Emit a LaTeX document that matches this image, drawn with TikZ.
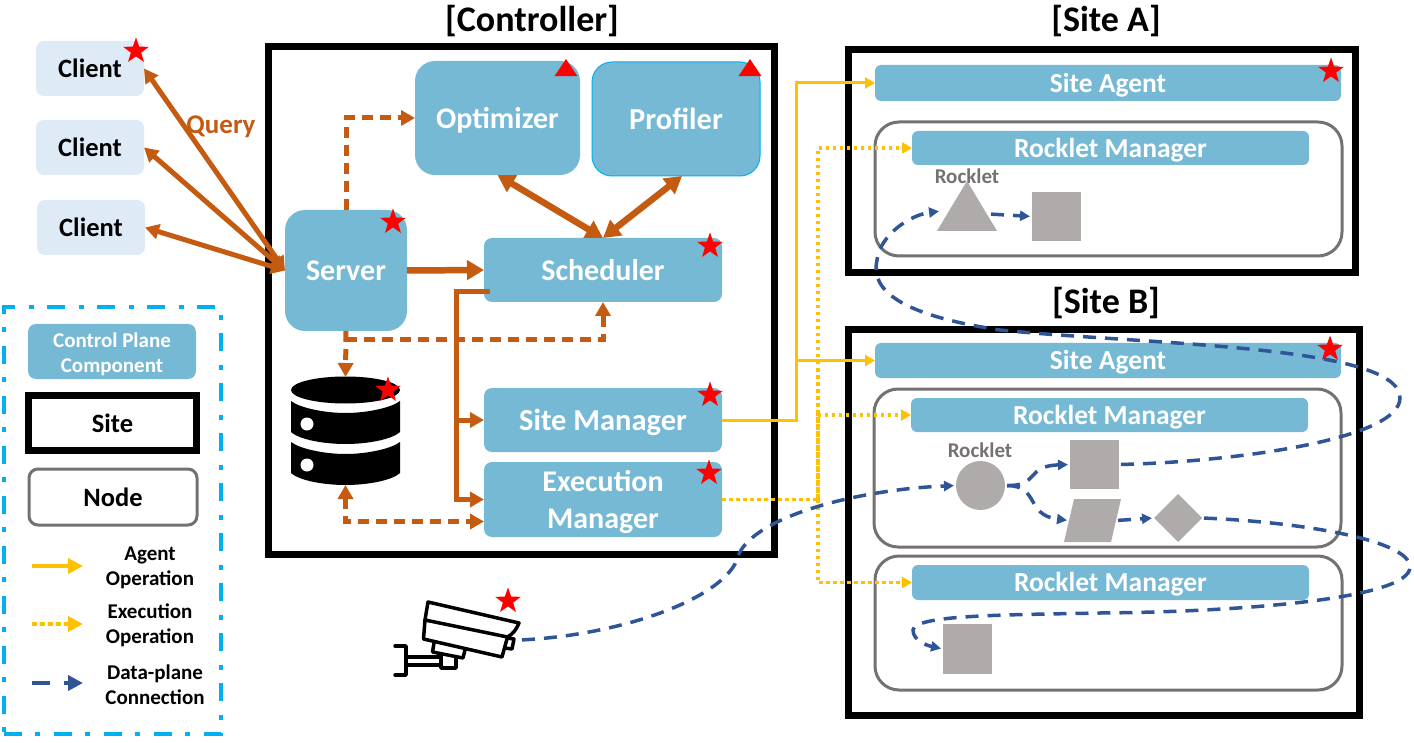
\documentclass[tikz,border=0pt]{standalone}
\usepackage{fontspec}
\setmainfont{Carlito}[BoldFont={Carlito Bold}]
\usetikzlibrary{positioning,shapes.geometric,arrows.meta}
\definecolor{compblue}{HTML}{75B9D4}
\definecolor{clientblue}{HTML}{DEEAF6}
\definecolor{nodegrey}{HTML}{767171}
\definecolor{rockgrey}{HTML}{AFABAB}
\definecolor{ctrlorange}{HTML}{C55A11}
\definecolor{agentyellow}{HTML}{FFC000}
\definecolor{datablue}{HTML}{2F5597}
\definecolor{legendcyan}{HTML}{00B0F0}
\tikzset{
  sz/.style 2 args={minimum width=#1pt, minimum height=#2pt},
  txt/.style={font=\fontsize{#1}{36}\selectfont\bfseries},
  boxtxt/.style={txt=#1, text height={0.87*#1pt}, text depth={0.2*#1pt}},
  comp/.style={fill=compblue, text=white, rounded corners=#1, inner sep=0pt, align=center},
  comp/.default=8pt,
  client/.style={fill=clientblue, rounded corners=8pt, inner sep=0pt, boxtxt=26.5},
  sitebox/.style={draw, line width=7pt, inner sep=0pt},
  nodebox/.style={draw=nodegrey, line width=3pt, rounded corners=#1, inner sep=0pt},
  nodebox/.default=24pt,
  rock/.style={fill=rockgrey, inner sep=0pt},
  rlabel/.style={text=nodegrey, txt=21},
  redstar/.style={star, star points=5, star point ratio=2.5, fill=red, minimum size=27pt, inner sep=0pt},
  redtri/.style={isosceles triangle, shape border rotate=90, isosceles triangle apex angle=68, fill=red, minimum height=17pt, inner sep=0pt},
  ctrl/.style={draw=ctrlorange, line width=5pt, -{Triangle[length=14pt,width=15pt]}},
  ctrlboth/.style={ctrl, {Triangle[length=14pt,width=15pt]}-{Triangle[length=14pt,width=15pt]}},
  ctrlbig/.style={draw=ctrlorange, line width=6.5pt, {Triangle[length=17pt,width=19pt]}-{Triangle[length=17pt,width=19pt]}},
  ctrldash/.style={dash pattern=on 11pt off 7pt},
  agent/.style={draw=agentyellow, line width=3pt, -{Triangle[length=10pt,width=11pt]}},
  exec/.style={agent, line width=3.5pt, dash pattern=on 3.5pt off 3.5pt},
  data/.style={draw=datablue, line width=3.5pt, dash pattern=on 13pt off 9pt, -{Triangle[length=10pt,width=10pt]}, shorten >=2pt, shorten <=2pt}
}
\begin{document}
\begin{tikzpicture}[x=1pt, y=-1pt, every node/.style={outer sep=0pt}]
  \useasboundingbox (0,0) rectangle (1414,743);

  % titles
  \node[txt=36] (titlectrl) at (532,21) {[Controller]};
  \node[txt=36] (titlea) at (1106,21) {[Site A]};
  \node[txt=36] (titleb) at (1106,303) {[Site B]};

  % clients
  \node[client, sz={108}{55}] (client1) at (90,68.5) {Client};
  \node[client, sz={108}{55}, below=24pt of client1] (client2) {Client};
  \node[client, sz={108}{55}] (client3) at (91,227.5) {Client};

  % controller
  \node[sitebox, sz={506}{507}] (ctrlbox) at (521.5,300.5) {};
  \node[comp=20pt, sz={122}{121}, boxtxt=30] (server) at (346,270.5) {Server};
  \node[comp=20pt, sz={165}{114}, boxtxt=30] (optimizer) at (497.5,118) {Optimizer};
  \node[comp=20pt, sz={168}{114}, boxtxt=30.5, draw=legendcyan, line width=1pt] (profiler) at (676,119) {Profiler};
  \node[comp, sz={238}{64}, boxtxt=30] (scheduler) at (603,270) {Scheduler};
  \node[comp, sz={238}{64}, boxtxt=30.5] (sitemgr) at (603,420) {Site Manager};
  \node[comp, sz={238}{75}, font=\fontsize{30}{37}\selectfont\bfseries, below=10pt of sitemgr] (execmgr) {\rule{0pt}{26.5pt}Execution\\Manager};

  % database
  \node[sz={109}{108}, inner sep=0pt] (db) at (345.5,431) {};
  \fill (345.5,390) ellipse [x radius=54.5, y radius=13.5];
  \foreach \dy in {0,41}
    \fill[yshift=-\dy pt] (291,401) .. controls (300,408) and (325,413) .. (345.5,413)
      .. controls (366,413) and (391,408) .. (400,401) -- (400,432)
      .. controls (391,440) and (366,444) .. (345.5,444)
      .. controls (325,444) and (300,440) .. (291,432) -- cycle;
  \fill[white] (307,424) circle [radius=6.5];
  \fill[white] (307,465) circle [radius=6.5];

  % camera
  \node[sz={126}{78}, inner sep=0pt] (camera) at (457,639) {};
  \begin{scope}[line width=3.5pt, line join=round, line cap=round]
    \draw (428,602) -- (519,623) .. controls (516,630) and (513,634) .. (507.5,637) -- (425,620) -- cycle;
    \draw (425,620) -- (423.5,639) -- (502,657) -- (507.5,637);
    \draw (507,638) -- (514,639) -- (512,649) -- (505,648);
    \draw (434,643) -- (432.5,652) -- (463,658) -- (465,650);
    \draw (441,656) -- (441,668) -- (456,668) -- (456,658);
    \draw (406,657) -- (441,657);
    \draw (406,665) -- (441,665);
    \draw (395,646) -- (406,646) -- (406,675) -- (395,675);
  \end{scope}

  % site A
  \node[sitebox, sz={507}{223}] (sitea) at (1102,161) {};
  \node[comp=6pt, sz={466}{36}, boxtxt=27.5] (agenta) at (1108,83) {Site Agent};
  \node[nodebox, sz={467}{134}] (nodea) at (1108.5,189) {};
  \node[comp=6pt, sz={397}{34}, boxtxt=27.5] (rma) at (1110.5,148) {Rocklet Manager};
  \node[rlabel] (rlabela) at (967,176) {Rocklet};
  \node[rock, isosceles triangle, shape border rotate=90, isosceles triangle apex angle=62, minimum height=50pt] (rocka1) at (967,214) {};
  \node[rock, sz={49}{49}] (rocka2) at (1056.5,216.5) {};

  % site B
  \node[sitebox, sz={511}{386}] (siteb) at (1104,522.5) {};
  \node[comp=6pt, sz={466}{35}, boxtxt=27.5] (agentb) at (1108,360.5) {Site Agent};
  \node[nodebox, sz={467}{158}] (nodeb1) at (1107.5,468) {};
  \node[comp=6pt, sz={397}{34}, boxtxt=27.5] (rmb1) at (1109.5,415) {Rocklet Manager};
  \node[rlabel] (rlabelb) at (980,450) {Rocklet};
  \node[rock, circle, minimum size=49pt] (rockb1) at (980.5,485.5) {};
  \node[rock, sz={49}{49}] (rockb2) at (1094.5,464.5) {};
  \node[sz={47}{43}, inner sep=0pt] (rockb3) at (1092.5,520.5) {};
  \fill[rockgrey] (1074,499) -- (1121,499) -- (1111,542) -- (1064,542) -- cycle;
  \node[rock, diamond, sz={48}{48}] (rockb4) at (1178,518) {};
  \node[nodebox, sz={467}{134}] (nodeb2) at (1108.5,623) {};
  \node[comp=6pt, sz={397}{35}, boxtxt=27.5] (rmb2) at (1110.5,582.5) {Rocklet Manager};
  \node[rock, sz={49}{50}] (rockb5) at (967.5,649) {};

  % control plane
  \node[text=ctrlorange, txt=27] (query) at (221,127) {Query};
  \draw[ctrlboth] (client1.east) -- (server.west);
  \draw[ctrlboth] (client2.east) -- (server.west);
  \draw[ctrlboth] (client3.east) -- (server.west);
  \draw[ctrl, ctrldash] (server.north) |- (optimizer.west);
  \draw[draw=ctrlorange, line width=6.5pt, -{Triangle[length=17pt,width=19pt]}] (server.east) -- (scheduler.west);
  \draw[ctrlbig] (optimizer.south) -- (scheduler.north);
  \draw[ctrlbig] ([xshift=6pt]profiler.south) -- (scheduler.north);
  \draw[ctrl, ctrldash] (server.south) -- (db.north);
  \coordinate (splitdb) at (346,340);
  \draw[ctrl, ctrldash] (splitdb) -| (scheduler.south);
  \coordinate (schedout) at (490,292);
  \coordinate (schedbus) at (456,292);
  \draw[ctrl] (schedout) -- (schedbus) |- (sitemgr.west);
  \draw[ctrl] (schedbus) |- (execmgr.west);
  \draw[ctrlboth, ctrldash] (db.south) |- ([yshift=-22pt]execmgr.west);

  % agent and execution operations
  \coordinate (agentbus) at (796,360.5);
  \draw[agent] (sitemgr.east) -| (agentbus) |- (agenta.west);
  \draw[agent] (agentbus) -- (agentb.west);
  \coordinate (execbus) at (818,499.5);
  \draw[exec] (execmgr.east) -- (execbus) |- (rma.west);
  \draw[exec] (execbus) |- (rmb1.west);
  \draw[exec] (execbus) |- (rmb2.west);

  % data plane
  \coordinate (camout) at (520,640);
  \coordinate (triout) at (989,214);
  \coordinate (triin) at (941,211);
  \draw[data] (camout) .. controls (620,635) and (720,600) .. (737,560) .. controls (745,520) and (850,490) .. (rockb1.west);
  \draw[data] (triout) -- (rocka2.west);
  \draw[data] (rockb1.east) .. controls (1040,486) and (1025,466) .. (rockb2.west);
  \draw[data] (rockb1.east) .. controls (1040,486) and (1025,515) .. (rockb3.west);
  \draw[data] (rockb3.east) -- (rockb4.west);
  \draw[data] (rockb2.east) .. controls (1230,462) and (1400,440) .. (1400,398) .. controls (1400,345) and (1150,345) .. (1000,330) .. controls (900,315) and (870,290) .. (877,260) .. controls (880,235) and (910,215) .. (triin);
  \draw[data] (rockb4.east) .. controls (1300,522) and (1410,540) .. (1410,567) .. controls (1410,600) and (1230,612) .. (1100,613) .. controls (1000,615) and (915,615) .. (913,630) .. controls (913,640) and (925,645) .. (rockb5.west);

  % stars and triangles
  \foreach \sx/\sy [count=\i] in {136/51, 393/222, 710/246, 710/395, 709/473, 388/390, 508/601, 1331/71, 1330/349}
    \node[redstar] (star\i) at (\sx,\sy) {};
  \node[redtri] (trio) at (566,70) {};
  \node[redtri] (trip) at (750,70) {};

  % legend
  \node[draw=legendcyan, line width=4pt, dash pattern=on 18pt off 13pt on 5pt off 14pt, sz={217}{427}, inner sep=0pt] (legend) at (112.5,520.5) {};
  \node[comp=8pt, sz={168}{55}, font=\fontsize{21}{25}\selectfont\bfseries] (legcomp) at (112,351.5) {\rule{0pt}{20.5pt}Control Plane\\Component};
  \node[sitebox, sz={168}{55}, txt=26.5] (legsite) at (112.5,423) {Site};
  \node[nodebox=9pt, sz={168}{56}, txt=26.5] (legnode) at (113,497) {Node};
  \node[font=\fontsize{21}{25}\selectfont\bfseries, align=center] (lagent) at (150,568) {Agent\\Operation};
  \node[font=\fontsize{21}{25}\selectfont\bfseries, align=center] (lexec) at (150,625) {Execution\\Operation};
  \node[font=\fontsize{21}{25}\selectfont\bfseries, align=center] (ldata) at (155,685) {Data-plane\\Connection};
  \coordinate (lagentst) at (32,566);
  \coordinate (lagentend) at (83,566);
  \coordinate (lexecst) at (32,624);
  \coordinate (lexecend) at (83,624);
  \coordinate (ldatast) at (32,683);
  \coordinate (ldataend) at (83,683);
  \draw[draw=agentyellow, line width=4pt, -{Triangle[length=15pt,width=15pt]}] (lagentst) -- (lagentend);
  \draw[draw=agentyellow, line width=4pt, dash pattern=on 5pt off 3pt, -{Triangle[length=15pt,width=15pt]}] (lexecst) -- (lexecend);
  \draw[draw=datablue, line width=4pt, dash pattern=on 18pt off 14pt, -{Triangle[length=15pt,width=15pt]}] (ldatast) -- (ldataend);
\end{tikzpicture}
\end{document}
